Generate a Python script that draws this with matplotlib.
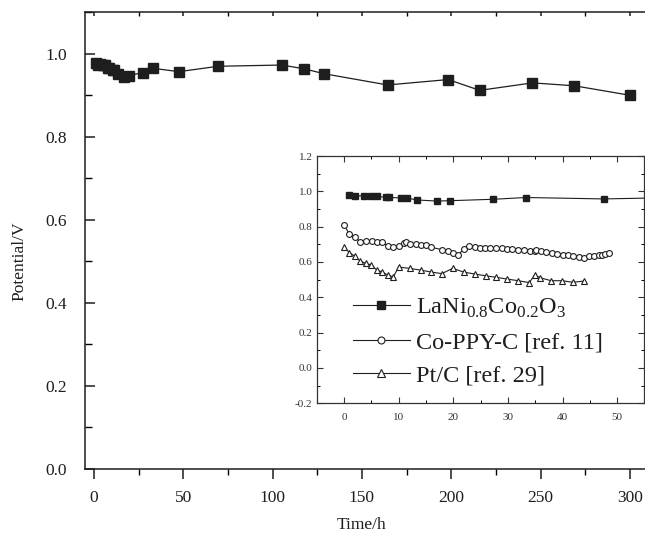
import matplotlib
matplotlib.use("Agg")
import matplotlib.pyplot as plt
from matplotlib.ticker import MultipleLocator

plt.rcParams['font.family'] = ['Liberation Serif', 'DejaVu Serif']
plt.rcParams['mathtext.fontset'] = 'custom'
plt.rcParams['mathtext.rm'] = 'Liberation Serif'

# LaNi0.8Co0.2O3 (main plot and inset)
t_lani = [1.0, 2.1, 3.6, 4.9, 6.0, 7.6, 8.2, 10.5, 11.5, 13.4, 17.0, 19.4,
          27.3, 33.3, 47.5, 69.5, 105.2, 117.6, 128.9, 164.4, 198.3, 216.0,
          245.5, 269.0, 300.3]
v_lani = [0.979, 0.973, 0.975, 0.973, 0.972, 0.966, 0.966, 0.962, 0.962,
          0.951, 0.945, 0.947, 0.955, 0.965, 0.957, 0.970, 0.973, 0.964,
          0.952, 0.925, 0.938, 0.912, 0.930, 0.923, 0.900]

# Co-PPY-C [ref. 11]
t_coppy = [0.0, 1.0, 2.0, 2.9, 4.1, 5.1, 6.1, 7.0, 8.0, 9.0, 10.0, 11.0, 11.3,
           12.1, 13.1, 14.1, 15.0, 16.0, 17.9, 19.0, 19.9, 20.9, 21.9, 22.9,
           23.9, 24.9, 25.8, 26.8, 27.8, 28.9, 29.9, 30.8, 31.9, 32.9, 34.0,
           34.9, 35.2, 36.0, 37.0, 38.0, 38.9, 40.0, 41.0, 42.0, 43.0, 43.9,
           44.9, 45.8, 46.7, 47.2, 47.7, 48.5]
v_coppy = [0.809, 0.758, 0.740, 0.715, 0.719, 0.719, 0.715, 0.713, 0.690,
           0.686, 0.688, 0.706, 0.712, 0.700, 0.700, 0.696, 0.694, 0.683,
           0.670, 0.660, 0.649, 0.641, 0.672, 0.690, 0.683, 0.679, 0.679,
           0.679, 0.679, 0.677, 0.675, 0.672, 0.668, 0.666, 0.662, 0.664,
           0.670, 0.660, 0.658, 0.651, 0.645, 0.639, 0.637, 0.632, 0.626,
           0.621, 0.632, 0.636, 0.639, 0.639, 0.643, 0.649]

# Pt/C [ref. 29]
t_ptc = [0.0, 1.0, 2.0, 3.0, 4.0, 5.0, 6.0, 7.0, 8.0, 9.0, 10.0, 12.0, 14.0,
         16.0, 17.9, 19.9, 21.9, 23.9, 25.9, 27.9, 29.9, 31.9, 33.9, 34.9,
         35.9, 37.9, 39.9, 41.9, 43.9]
v_ptc = [0.683, 0.653, 0.632, 0.604, 0.592, 0.583, 0.554, 0.543, 0.526,
         0.515, 0.571, 0.564, 0.554, 0.543, 0.534, 0.564, 0.543, 0.532,
         0.522, 0.513, 0.503, 0.494, 0.483, 0.526, 0.511, 0.494, 0.494,
         0.485, 0.492]

labels = [r'LaNi$_\mathregular{0.8}$Co$_\mathregular{0.2}$O$_\mathregular{3}$',
          'Co-PPY-C [ref. 11]', 'Pt/C [ref. 29]']

dark = '#1e1e1e'
fig = plt.figure(figsize=(6.45, 5.36), dpi=100)

# ---------- main axes ----------
ax = fig.add_axes([85/645, 1-469/536, 1-85/645, (469-12.3)/536])
ax.plot(t_lani, v_lani, '-', color=dark, lw=0.9, marker='s', ms=6.5,
        mfc=dark, mec=dark)
ax.set_xlim(-5, 308.5)
ax.set_ylim(0, 1.1)
ax.xaxis.set_major_locator(MultipleLocator(50))
ax.xaxis.set_minor_locator(MultipleLocator(25))
ax.yaxis.set_major_locator(MultipleLocator(0.2))
ax.yaxis.set_minor_locator(MultipleLocator(0.1))
ax.yaxis.set_major_formatter(matplotlib.ticker.FormatStrFormatter('%.1f'))
ax.spines['right'].set_visible(False)
for s in ['left', 'bottom', 'top']:
    ax.spines[s].set_linewidth(1.1)
    ax.spines[s].set_color(dark)
ax.tick_params(axis='y', which='major', direction='in', length=7, width=1.1,
               labelsize=12.5, pad=13, colors=dark)
ax.tick_params(axis='y', which='minor', direction='in', length=5, width=1.0)
ax.tick_params(axis='x', which='major', direction='out', length=7, width=1.1,
               labelsize=12.5, pad=8, colors=dark, top=True)
ax.tick_params(axis='x', which='minor', direction='out', length=4, width=1.0,
               top=True)
for tk in ax.xaxis.get_major_ticks() + ax.xaxis.get_minor_ticks():
    tk.tick2line.set_marker(matplotlib.lines.TICKDOWN)
    tk.tick2line.set_markersize(3)
ax.set_ylabel('Potential/V', fontsize=12.5, color=dark)
ax.set_xlabel('Time/h', fontsize=12.5, color=dark)
ax.yaxis.set_label_coords(-0.102, 0.4545)
ax.xaxis.set_label_coords(0.493, -0.105)

# ---------- inset axes ----------
ins = fig.add_axes([316.7/645, 1-403.3/536, (644.5-316.7)/645, 247.3/536])
l1, = ins.plot(t_lani, v_lani, '-', color=dark, lw=0.8, marker='s', ms=3.8,
               mfc=dark, mec=dark)
l2, = ins.plot(t_coppy, v_coppy, '-', color=dark, lw=0.8, marker='o', ms=4.2,
               mfc='white', mec=dark, mew=0.8)
l3, = ins.plot(t_ptc, v_ptc, '-', color=dark, lw=0.8, marker='^', ms=4.4,
               mfc='white', mec=dark, mew=0.8)
ins.set_xlim(-5, 55)
ins.set_ylim(-0.2, 1.2)
ins.xaxis.set_major_locator(MultipleLocator(10))
ins.xaxis.set_minor_locator(MultipleLocator(5))
ins.yaxis.set_major_locator(MultipleLocator(0.2))
ins.yaxis.set_minor_locator(MultipleLocator(0.1))
ins.yaxis.set_major_formatter(matplotlib.ticker.FormatStrFormatter('%.1f'))
for s in ins.spines.values():
    s.set_linewidth(0.9)
    s.set_color('#333333')
ins.tick_params(which='major', direction='in', length=4, width=0.8,
                labelsize=8, top=True, right=True, colors='#333333')
ins.tick_params(which='minor', direction='in', length=2.5, width=0.7,
                top=True, right=True)
ins.tick_params(axis='x', pad=7)
ins.tick_params(axis='y', pad=3)

leg = ins.legend([l1, l2, l3], labels, loc='center left',
                 bbox_to_anchor=(0.11, 0.25), frameon=False,
                 fontsize=17.5, handlelength=2.35, handletextpad=0.25,
                 labelspacing=0.45, borderpad=0, borderaxespad=0,
                 numpoints=1)
for h, ms in zip(leg.legend_handles, [6, 5, 5.5]):
    h.set_markersize(ms)
for txt in leg.get_texts():
    txt.set_color(dark)

fig.savefig('out.png', dpi=100)
